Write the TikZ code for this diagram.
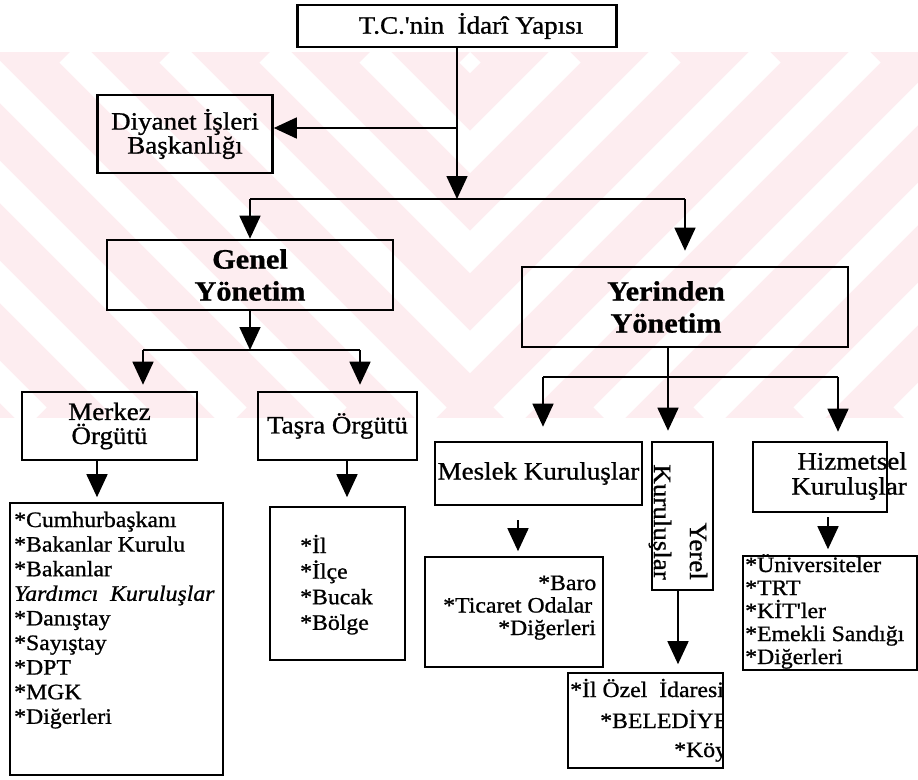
\documentclass[tikz,border=0pt]{standalone}
\usepackage{fontspec}
\setmainfont[FakeStretch=1.08, FakeBold=0.9]{Liberation Serif}
\newfontfamily\duz[FakeStretch=1.08, FakeBold=0.9]{Liberation Serif}
\usetikzlibrary{arrows.meta}

\definecolor{filigran}{HTML}{FDEDF0}

\tikzset{
  kutu/.style={draw, line width=2.6pt, inner sep=0pt, align=center, font=\fontsize{25}{24}\selectfont},
  baslik/.style={font=\fontsize{28}{32}\selectfont\bfseries},
  liste/.style={draw, line width=1.6pt, inner sep=0pt},
  madde/.style={inner sep=0pt, anchor=base west, font=\fontsize{22}{24}\selectfont},
  hat/.style={line width=1.6pt},
  ok/.style={hat, -{Triangle[length=23pt,width=21pt]}},
}

\begin{document}
\begin{tikzpicture}[x=1pt,y=-1pt]
\useasboundingbox (0,0) rectangle (918,779);

% filigran
\begin{scope}
\clip (0,52) rectangle (918,418);
\fill[filigran] (0,52) rectangle (918,418);
\begin{scope}
\clip (0,52) rectangle (470,418);
\foreach \a in {-430,-330,...,470} \draw[white, line width=30pt] (\a,52) -- ++(366,366);
\end{scope}
\begin{scope}
\clip (470,52) rectangle (918,418);
\foreach \a in {1370,1270,...,470} \draw[white, line width=30pt] (\a,52) -- ++(-366,366);
\end{scope}
\end{scope}

\node[kutu, minimum width=319, minimum height=42] (idari) at (457,26) {\hspace*{28pt}T.C.{\duz'}nin\ \ İdarî Yapısı};
\node[kutu, minimum width=175, minimum height=78] (diy) at (185,134) {Diyanet İşleri\\Başkanlığı};
\node[kutu, baslik, minimum width=286, minimum height=70] (genel) at (250,275) {Genel\\Yönetim};
\node[kutu, baslik, minimum width=326, minimum height=80] (yer) at (685,307) {Yerinden\hspace*{38pt}\\Yönetim\hspace*{38pt}};

\node[kutu, minimum width=175, minimum height=68] (merkez) at (109.5,426) {Merkez\\Örgütü};
\node[kutu, minimum width=159, minimum height=68] (tasra) at (337.5,426) {Taşra Örgütü};
\node[kutu, minimum width=207, minimum height=63] (meslek) at (538.5,473.5) {Meslek Kuruluşlar};
\node[kutu, minimum width=61, minimum height=148] (yerel) at (682.5,516) {};
\node[kutu, minimum width=134, minimum height=70] (hizmet) at (820,477) {};
\node[inner sep=0pt, rotate=-90, anchor=east, align=right, font=\fontsize{25}{36}\selectfont] (yereltxt) at (678,580) {Yerel\\Kuruluşlar};
\node[inner sep=0pt, anchor=north east, align=right, font=\fontsize{25}{25}\selectfont] (hizmettxt) at (907,452) {Hizmetsel\\Kuruluşlar};

\node[liste, minimum width=213, minimum height=272] (mliste) at (116.5,639) {};
\node[liste, minimum width=135, minimum height=153] (tliste) at (337.5,583.5) {};
\node[liste, minimum width=178, minimum height=110] (bliste) at (514,612) {};
\node[liste, minimum width=155, minimum height=95] (yliste) at (645.5,720.5) {};
\node[liste, minimum width=174, minimum height=114] (hliste) at (830,613) {};

\foreach \t [count=\i from 0] in {*Cumhurbaşkanı, *Bakanlar Kurulu, *Bakanlar, {\itshape Yardımcı\ \ Kuruluşlar}, *Danıştay, *Sayıştay, *DPT, *MGK, *Diğerleri}
  \node[madde] (m\i) at (14,527+24.6*\i) {\t};
\foreach \t [count=\i from 0] in {*İl, *İlçe, *Bucak, *Bölge}
  \node[madde] (t\i) at (300,553+25.6*\i) {\t};
\foreach \x/\t [count=\i from 0] in {538/*Baro, 443/*Ticaret Odalar, 498/*Diğerleri}
  \node[madde] (b\i) at (\x,590+22.5*\i) {\t};
\begin{scope}
\clip (yliste.south west) rectangle (yliste.north east);
\foreach \x/\y/\t [count=\i from 0] in {570/697/*İl Özel\ \ İdaresi, 600/728/*BELEDİYE, 674/757/*Köy}
  \node[madde] (y\i) at (\x,\y) {\t};
\end{scope}
\foreach \t [count=\i from 0] in {*Üniversiteler, *TRT, *KİT{\duz'}ler, *Emekli Sandığı, *Diğerleri}
  \node[madde] (h\i) at (745,572+23*\i) {\t};

% baglantilar
\coordinate (ayr1) at (457,128);
\coordinate (ayr2) at (457,199);
\draw[hat] (idari.south) -- (ayr1);
\draw[ok] (ayr1) -- (ayr1 -| diy.east);
\draw[ok] (ayr1) -- (ayr2);
\draw[hat] (ayr2 -| genel.north) -- (ayr2 -| yer.north);
\draw[ok] (ayr2 -| genel.north) -- (genel.north);
\draw[ok, shorten >=15] (ayr2 -| yer.north) -- (yer.north);

\coordinate (ayr3) at (250,350);
\coordinate (m1) at (143,350);
\coordinate (t1) at (360,350);
\draw[ok] (genel.south) -- (ayr3);
\draw[hat] (m1) -- (t1);
\draw[ok, shorten >=6] (m1) -- (m1 |- merkez.north);
\draw[ok, shorten >=6] (t1) -- (t1 |- tasra.north);
\coordinate (m2) at ([xshift=-12.5]merkez.south);
\coordinate (t2) at ([xshift=9.5]tasra.south);
\draw[ok, shorten >=5] (m2) -- (m2 |- mliste.north);
\draw[ok, shorten >=9] (t2) -- (t2 |- tliste.north);

\coordinate (y1) at ([xshift=-17]yer.south);
\coordinate (ayr4) at (y1 |- 0,377);
\coordinate (b1) at (543,377);
\coordinate (h1) at (838,377);
\draw[hat] (y1) -- (ayr4);
\draw[hat] (b1) -- (h1);
\draw[ok, shorten >=14] (b1) -- (b1 |- meslek.north);
\draw[ok, shorten >=10] (ayr4) -- (ayr4 |- yerel.north);
\draw[ok, shorten >=9] (h1) -- (h1 |- hizmet.north);
\coordinate (b2) at ([xshift=-20.5]meslek.south);
\coordinate (y2) at ([xshift=-4.5]yerel.south);
\coordinate (h2) at ([xshift=8]hizmet.south);
\draw[ok, shorten <=14, shorten >=5] (b2) -- (b2 |- bliste.north);
\draw[ok, shorten >=8] (y2) -- (y2 |- yliste.north);
\draw[ok, shorten <=4, shorten >=6] (h2) -- (h2 |- hliste.north);

\end{tikzpicture}
\end{document}
